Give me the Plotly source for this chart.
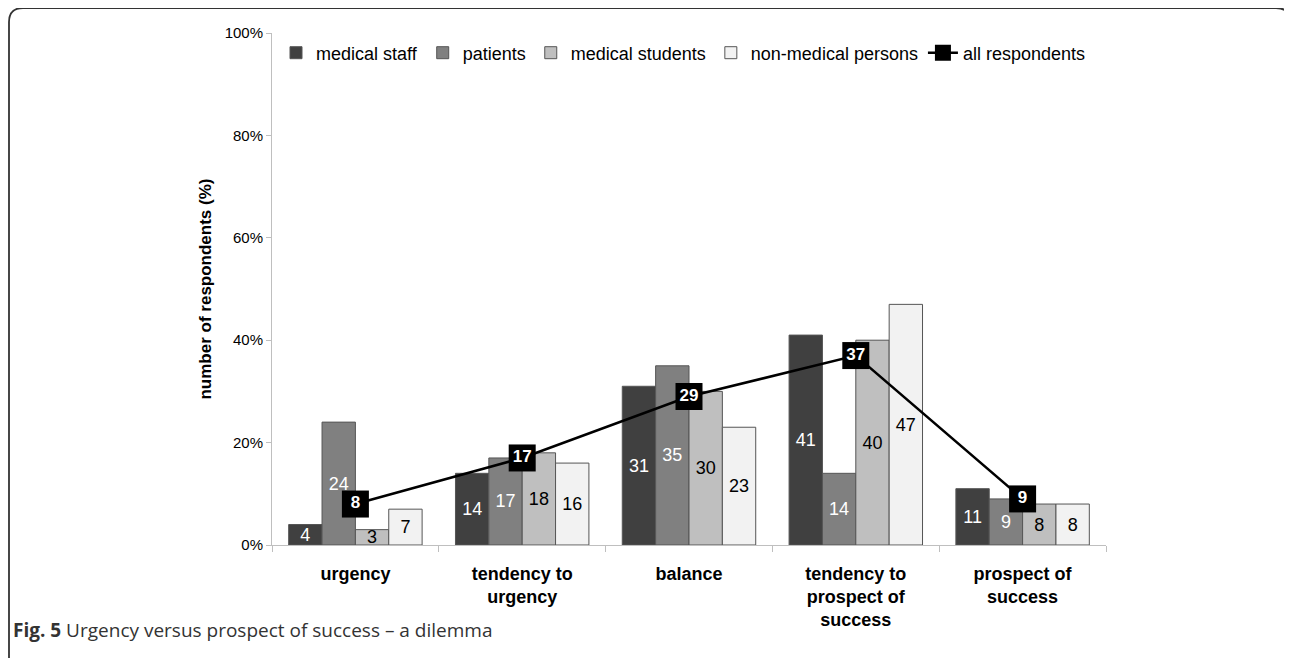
import plotly.graph_objects as go

_FONT = "Liberation Sans, Arial, sans-serif"

categories = [
    "urgency",
    "tendency to<br>urgency",
    "balance",
    "tendency to<br>prospect of<br>success",
    "prospect of<br>success",
]
medical_staff = [4, 14, 31, 41, 11]
patients = [24, 17, 35, 14, 9]
medical_students = [3, 18, 30, 40, 8]
non_medical = [7, 16, 23, 47, 8]
all_respondents = [8, 17, 29, 37, 9]

groups = [
    ("medical staff", medical_staff, "#404040", "white"),
    ("patients", patients, "#808080", "white"),
    ("medical students", medical_students, "#bfbfbf", "black"),
    ("non-medical persons", non_medical, "#f2f2f2", "black"),
]

# the page body adds an 8px margin, so layout pixels are shifted by that
OFF = 8
W, H = 1292 - OFF, 658 - OFF
L, R, T, B = 272 - OFF, 1106 - OFF, 33 - OFF, 545 - OFF

fig = go.Figure()
for name, vals, color, txt in groups:
    fig.add_trace(go.Bar(
        x=categories, y=vals, name=name,
        marker=dict(color=color, line=dict(color="#555555", width=1)),
        text=[str(v) for v in vals],
        textposition="inside", insidetextanchor="middle",
        textangle=0, constraintext="none",
        textfont=dict(color=txt, size=18, family=_FONT),
    ))

fig.add_trace(go.Scatter(
    x=categories, y=all_respondents, name="all respondents",
    mode="lines+markers+text",
    line=dict(color="black", width=2.5),
    marker=dict(symbol="square", size=27, color="black"),
    text=["<b>%d</b>" % v for v in all_respondents],
    textposition="middle center",
    textfont=dict(color="white", size=17, family=_FONT),
))


def px_x(p):
    # reference-image pixel -> paper x
    return (p - OFF - L) / (R - L)


def px_y(p):
    return (B - (p - OFF)) / (B - T)


# rounded frame around the figure
fx0, fx1, fy0, fy1, rad = 9, 1290, 8, 700, 14
path = (
    f"M {px_x(fx0)},{px_y(fy1)} L {px_x(fx0)},{px_y(fy0 + rad)} "
    f"Q {px_x(fx0)},{px_y(fy0)} {px_x(fx0 + rad)},{px_y(fy0)} "
    f"L {px_x(fx1 - rad)},{px_y(fy0)} "
    f"Q {px_x(fx1)},{px_y(fy0)} {px_x(fx1)},{px_y(fy0 + rad)} "
    f"L {px_x(fx1)},{px_y(fy1)}"
)
fig.add_shape(type="path", path=path, xref="paper", yref="paper",
              line=dict(color="#333333", width=1.8), layer="below")

fig.add_annotation(
    text="<b>Fig. 5</b> Urgency versus prospect of success – a dilemma",
    x=px_x(11), y=px_y(630), xref="paper", yref="paper",
    xanchor="left", yanchor="middle", showarrow=False,
    font=dict(family="Open Sans, sans-serif", size=19, color="#333333"),
)

fig.update_layout(
    width=W, height=H,
    margin=dict(l=L, r=W - R, t=T, b=H - B),
    font_family=_FONT,
    plot_bgcolor="white",
    paper_bgcolor="white",
    barmode="group",
    bargap=0.2, bargroupgap=0,
    showlegend=True,
    legend=dict(
        orientation="h", x=px_x(276), y=px_y(53), xanchor="left", yanchor="middle",
        font=dict(size=18, color="black"), bgcolor="rgba(0,0,0,0)",
        traceorder="normal",
    ),
)
fig.update_xaxes(
    showline=True, linecolor="#bfbfbf", linewidth=1,
    ticks="outside", tickson="boundaries", ticklen=6, tickcolor="#bfbfbf",
    tickfont=dict(size=18, color="black", family=_FONT),
    tickprefix="<b>", ticksuffix="</b>",
    ticklabelstandoff=12,
    showgrid=False,
)
fig.update_yaxes(
    range=[0, 100], dtick=20, ticksuffix="%",
    showline=True, linecolor="#bfbfbf", linewidth=1,
    ticks="outside", ticklen=5, tickcolor="#bfbfbf",
    tickfont=dict(size=15, color="black"),
    showgrid=False, zeroline=False,
    title=dict(text="<b>number of respondents (%)</b>", font=dict(size=17, color="black"), standoff=8),
)

fig.write_html("out.html")
